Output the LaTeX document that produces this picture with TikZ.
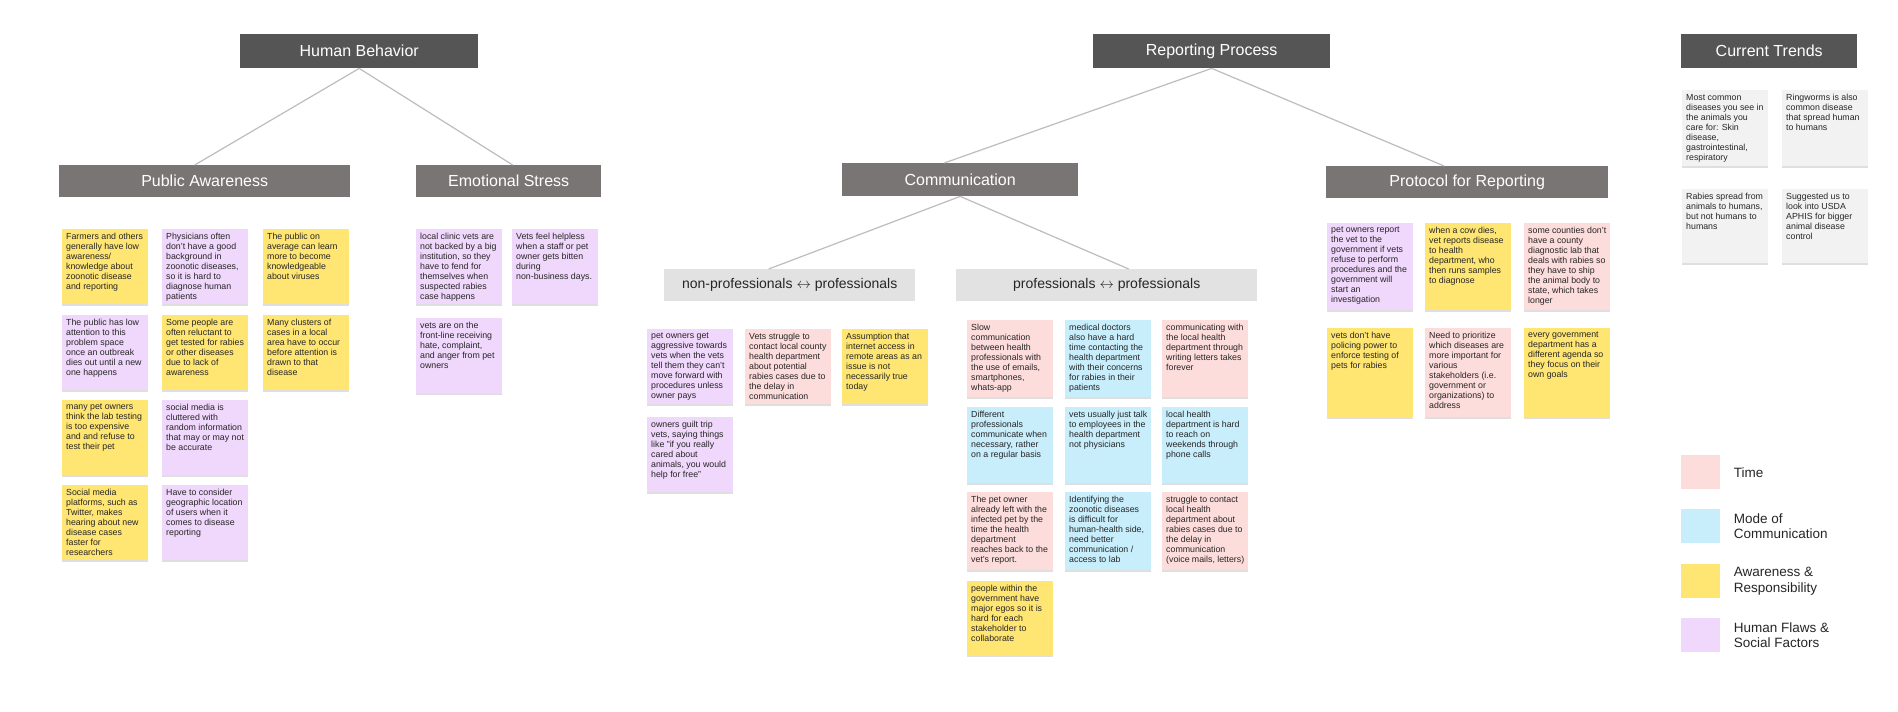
\documentclass[tikz,border=0pt]{standalone}
\usepackage{fontspec}
\setmainfont{Liberation Sans}
\usetikzlibrary{shadows}
\definecolor{hdark}{HTML}{555555}
\definecolor{hmid}{HTML}{7A7575}
\definecolor{hlight}{HTML}{E2E2E2}
\definecolor{linkgray}{HTML}{BDBDBD}
\definecolor{syel}{HTML}{FFE673}
\definecolor{spink}{HTML}{FDDCDC}
\definecolor{sblue}{HTML}{C8EDFB}
\definecolor{spurp}{HTML}{F0D7FC}
\definecolor{sgray}{HTML}{F2F2F2}
\newcommand\stxt[2][67]{\parbox[t][#1pt][t]{78pt}{\raggedright\fontsize{8.8}{10}\selectfont #2}}
\tikzset{
  sticky/.style={fill=#1, anchor=north west, inner sep=4pt, text=black!85,
    drop shadow={shadow xshift=0pt, shadow yshift=-1.5pt, opacity=.25}},
  head/.style={anchor=north west, fill=hdark, text=white, font=\fontsize{16}{16}\selectfont, minimum height=34pt, inner sep=0pt},
  sub/.style={anchor=north west, fill=hmid, text=white, font=\fontsize{16}{16}\selectfont, minimum height=32pt, inner sep=0pt},
  subsub/.style={anchor=north west, fill=hlight, text=black!85, font=\fontsize{14}{14}\selectfont, minimum height=32pt, inner sep=0pt},
  link/.style={draw=linkgray, line width=1.2pt},
  key/.style={anchor=north west, minimum width=39pt, minimum height=34pt, inner sep=0pt},
  keytext/.style={anchor=west, align=left, font=\fontsize{13.5}{15.5}\selectfont, text=black!85}
}
\begin{document}
\begin{tikzpicture}[x=1pt,y=-1pt]
  \useasboundingbox[fill=white] (0,0) rectangle (1898,712);

  % headers
  \node[head,minimum width=238pt] (hb) at (240,34) {Human Behavior};
  \node[head,minimum width=237pt] (rp) at (1093,34) {Reporting Process};
  \node[head,minimum width=176pt] (ct) at (1681,34) {Current Trends};
  \node[sub,minimum width=291pt] (pa) at (59,165) {Public Awareness};
  \node[sub,minimum width=185pt] (es) at (416,165) {Emotional Stress};
  \node[sub,minimum width=236pt,minimum height=33pt] (co) at (842,163) {Communication};
  \node[sub,minimum width=282pt] (pr) at (1326,166) {Protocol for Reporting};
  \node[subsub,minimum width=251pt] (np) at (664,269) {non-professionals $\leftrightarrow$ professionals};
  \node[subsub,minimum width=301pt] (pp) at (956,269) {professionals $\leftrightarrow$ professionals};

  \draw[link] (hb.south) -- ([xshift=-10pt]pa.north);
  \draw[link] (hb.south) -- ([xshift=4pt]es.north);
  \draw[link] (rp.south) -- ([xshift=-16pt]co.north);
  \draw[link] (rp.south) -- ([xshift=-23pt]pr.north);
  \draw[link] (co.south) -- ([xshift=-21pt]np.north);
  \draw[link] (co.south) -- ([xshift=22pt]pp.north);

  % public awareness
  \node[sticky=syel] (pa1) at (62,229) {\stxt{Farmers and others generally have low awareness/ knowledge about zoonotic disease and reporting}};
  \node[sticky=spurp] (pa2) at (162,229) {\stxt{Physicians often don't have a good background in zoonotic diseases, so it is hard to diagnose human patients}};
  \node[sticky=syel] (pa3) at (263,229) {\stxt{The public on average can learn more to become knowledgeable about viruses}};
  \node[sticky=spurp] (pa4) at (62,315) {\stxt{The public has low attention to this problem space once an outbreak dies out until a new one happens}};
  \node[sticky=syel] (pa5) at (162,315) {\stxt{Some people are often reluctant to get tested for rabies or other diseases due to lack of awareness}};
  \node[sticky=syel] (pa6) at (263,315) {\stxt{Many clusters of cases in a local area have to occur before attention is drawn to that disease}};
  \node[sticky=syel] (pa7) at (62,400) {\stxt{many pet owners think the lab testing is too expensive and and refuse to test their pet}};
  \node[sticky=spurp] (pa8) at (162,400) {\stxt{social media is cluttered with random information that may or may not be accurate}};
  \node[sticky=syel] (pa9) at (62,485) {\stxt{Social media platforms, such as Twitter, makes hearing about new disease cases faster for researchers}};
  \node[sticky=spurp] (pa10) at (162,485) {\stxt{Have to consider geographic location of users when it comes to disease reporting}};

  % emotional stress
  \node[sticky=spurp] (es1) at (416,229) {\stxt{local clinic vets are not backed by a big institution, so they have to fend for themselves when suspected rabies case happens}};
  \node[sticky=spurp] (es2) at (512,229) {\stxt{Vets feel helpless when a staff or pet owner gets bitten during non-business days.}};
  \node[sticky=spurp] (es3) at (416,318) {\stxt{vets are on the front-line receiving hate, complaint, and anger from pet owners}};

  % non-professionals
  \node[sticky=spurp] (np1) at (647,329) {\stxt{pet owners get aggressive towards vets when the vets tell them they can't move forward with procedures unless owner pays}};
  \node[sticky=spink] (np2) at (745,329) {\stxt{Vets struggle to contact local county health department about potential rabies cases due to the delay in communication}};
  \node[sticky=syel] (np3) at (842,329) {\stxt{Assumption that internet access in remote areas as an issue is not necessarily true today}};
  \node[sticky=spurp] (np4) at (647,417) {\stxt{owners guilt trip vets, saying things like "if you really cared about animals, you would help for free"}};

  % professionals
  \node[sticky=spink] (pp1) at (967,320) {\stxt[69]{Slow communication between health professionals with the use of emails, smartphones, whats-app}};
  \node[sticky=sblue] (pp2) at (1065,320) {\stxt[69]{medical doctors also have a hard time contacting the health department with their concerns for rabies in their patients}};
  \node[sticky=spink] (pp3) at (1162,320) {\stxt[69]{communicating with the local health department through writing letters takes forever}};
  \node[sticky=sblue] (pp4) at (967,407) {\stxt[68]{Different professionals communicate when necessary, rather on a regular basis}};
  \node[sticky=sblue] (pp5) at (1065,407) {\stxt[68]{vets usually just talk to employees in the health department not physicians}};
  \node[sticky=sblue] (pp6) at (1162,407) {\stxt[68]{local health department is hard to reach on weekends through phone calls}};
  \node[sticky=spink] (pp7) at (967,492) {\stxt[70]{The pet owner already left with the infected pet by the time the health department reaches back to the vet's report.}};
  \node[sticky=sblue] (pp8) at (1065,492) {\stxt[70]{Identifying the zoonotic diseases is difficult for human-health side, need better communication / access to lab}};
  \node[sticky=spink] (pp9) at (1162,492) {\stxt[70]{struggle to contact local health department about rabies cases due to the delay in communication (voice mails, letters)}};
  \node[sticky=syel] (pp10) at (967,581) {\stxt[66]{people within the government have major egos so it is hard for each stakeholder to collaborate}};

  % protocol
  \node[sticky=spurp] (pr1) at (1327,223) {\stxt[79]{pet owners report the vet to the government if vets refuse to perform procedures and the government will start an investigation}};
  \node[sticky=syel] (pr2) at (1425,223) {\stxt[79]{when a cow dies, vet reports disease to health department, who then runs samples to diagnose}};
  \node[sticky=spink] (pr3) at (1524,223) {\stxt[79]{some counties don't have a county diagnostic lab that deals with rabies so they have to ship the animal body to state, which takes longer}};
  \node[sticky=syel] (pr4) at (1327,328) {\stxt[81]{vets don't have policing power to enforce testing of pets for rabies}};
  \node[sticky=spink] (pr5) at (1425,328) {\stxt[81]{Need to prioritize which diseases are more important for various stakeholders (i.e. government or organizations) to address}};
  \node[sticky=syel] (pr6) at (1524,328) {\stxt[81]{every government department has a different agenda so they focus on their own goals}};

  % current trends
  \node[sticky=sgray] (ct1) at (1682,90) {\stxt[68]{Most common diseases you see in the animals you care for: Skin disease, gastrointestinal, respiratory}};
  \node[sticky=sgray] (ct2) at (1782,90) {\stxt[68]{Ringworms is also common disease that spread human to humans}};
  \node[sticky=sgray] (ct3) at (1682,189) {\stxt[66]{Rabies spread from animals to humans, but not humans to humans}};
  \node[sticky=sgray] (ct4) at (1782,189) {\stxt[66]{Suggested us to look into USDA APHIS for bigger animal disease control}};

  % legend
  \node[key,fill=spink] (k1) at (1681,455) {};
  \node[key,fill=sblue] (k2) at (1681,509) {};
  \node[key,fill=syel] (k3) at (1681,564) {};
  \node[key,fill=spurp] (k4) at (1681,618) {};
  \node[keytext] (t1) at ([xshift=10pt]k1.east) {Time};
  \node[keytext] (t2) at ([xshift=10pt]k2.east) {Mode of\\Communication};
  \node[keytext] (t3) at ([xshift=10pt]k3.east) {Awareness \&\\Responsibility};
  \node[keytext] (t4) at ([xshift=10pt]k4.east) {Human Flaws \&\\Social Factors};
\end{tikzpicture}
\end{document}
